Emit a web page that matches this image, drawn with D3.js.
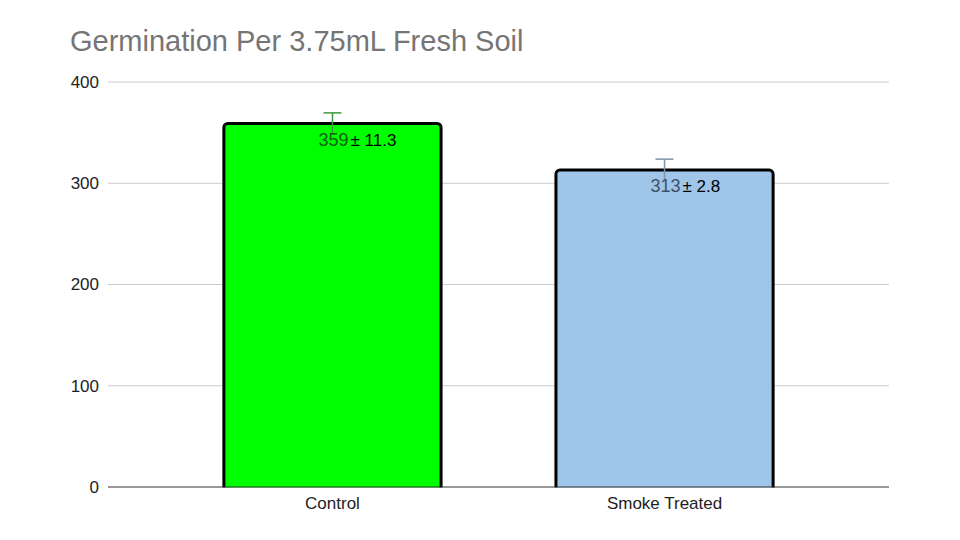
<!DOCTYPE html>
<html><head><meta charset="utf-8">
<script src="https://cdn.jsdelivr.net/npm/d3@7"></script>
<style>body{margin:0;background:#fff;}svg{display:block;font-family:Arial,"Liberation Sans",sans-serif;}</style>
</head><body><svg id="c" width="960" height="540"></svg>
<script>
const categories = ["Control", "Smoke Treated"];
const values = [359, 313];
const errors = [10.5, 10.8];
const sdLabels = ["± 11.3", "± 2.8"];
const yTicks = [0, 100, 200, 300, 400];
const barColors = ["#00ff00", "#9fc5e8"];
const errColors = ["#3c9a3c", "#7f95ab"];
const labelColors = ["#155e15", "#3e5166"];

const svg = d3.select("#c");
const x = d3.scaleBand().domain(categories).range([108, 889]).paddingInner(0.346).paddingOuter(0.349);
const y = d3.scaleLinear().domain([0, 400]).range([487, 82]);

svg.append("text").attr("x", 70).attr("y", 51).attr("font-size", 29).attr("fill", "#757575").text("Germination Per 3.75mL Fresh Soil");

const grid = svg.append("g");
grid.selectAll("line").data(yTicks.filter(d => d > 0)).join("line")
  .attr("x1", 108).attr("x2", 889).attr("y1", d => y(d)).attr("y2", d => y(d))
  .attr("stroke", "#cccccc").attr("stroke-width", 1);

const yAxis = svg.append("g").attr("transform", "translate(108,0)")
  .call(d3.axisLeft(y).tickValues(yTicks).tickSize(0).tickPadding(9));
yAxis.select(".domain").remove();
yAxis.selectAll("text").attr("font-size", 17).attr("fill", "#222").attr("font-family", "Arial, 'Liberation Sans', sans-serif");

const bars = svg.append("g");
bars.selectAll("rect").data(categories).join("rect")
  .attr("x", d => x(d)).attr("width", x.bandwidth())
  .attr("y", (d, i) => y(values[i])).attr("height", (d, i) => y(0) - y(values[i]) + 4)
  .attr("rx", 4).attr("fill", (d, i) => barColors[i]).attr("stroke", "#000").attr("stroke-width", 3);

svg.append("rect").attr("x", 100).attr("y", y(0) + 0.5).attr("width", 800).attr("height", 10).attr("fill", "#fff");
svg.append("line").attr("x1", 108).attr("x2", 889).attr("y1", y(0)).attr("y2", y(0)).attr("stroke", "#333").attr("stroke-width", 1.2);

const xAxis = svg.append("g").attr("transform", `translate(0,${y(0)})`)
  .call(d3.axisBottom(x).tickSize(0).tickPadding(10));
xAxis.select(".domain").remove();
xAxis.selectAll("text").attr("font-size", 17).attr("fill", "#222").attr("font-family", "Arial, 'Liberation Sans', sans-serif");

const eb = svg.append("g");
categories.forEach((c, i) => {
  const cx = x(c) + x.bandwidth() / 2;
  eb.append("line").attr("x1", cx).attr("x2", cx).attr("y1", y(values[i] + errors[i])).attr("y2", y(values[i] - errors[i]))
    .attr("stroke", errColors[i]).attr("stroke-width", 1.5);
  eb.append("line").attr("x1", cx - 9).attr("x2", cx + 9).attr("y1", y(values[i] + errors[i])).attr("y2", y(values[i] + errors[i]))
    .attr("stroke", errColors[i]).attr("stroke-width", 1.5);
  const t = svg.append("text").attr("x", cx - 14).attr("y", y(values[i]) + 22).attr("font-size", 18);
  t.append("tspan").attr("fill", labelColors[i]).text(values[i]);
  t.append("tspan").attr("fill", "#000").attr("font-size", 17).attr("dx", 2).text(sdLabels[i]);
});
</script></body></html>
